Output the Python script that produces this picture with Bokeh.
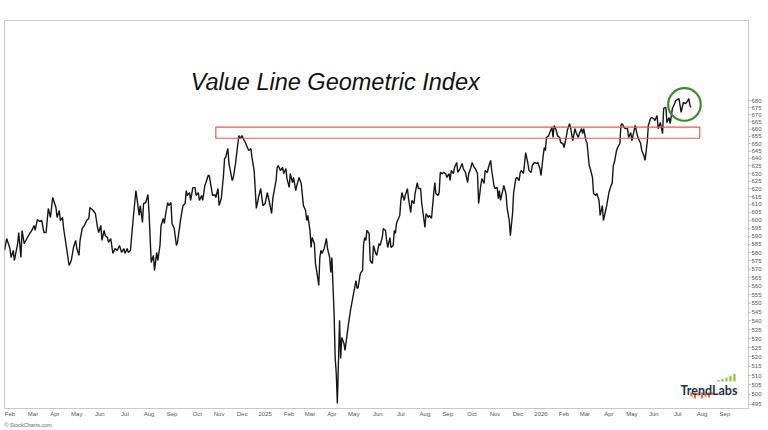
from bokeh.plotting import figure
from bokeh.models import Range1d, FixedTicker, PrintfTickFormatter, Label, Title, LinearScale
from bokeh.embed import file_html
from bokeh.resources import INLINE

# trading-session number (0 = late Jan 2024) and index close
session = [0, 2, 5, 6, 8, 9, 12, 13, 15, 16, 18, 21, 23, 25, 27, 28, 30, 32, 34, 36, 38, 40, 42, 44, 47, 48, 50, 51, 53, 54,
           57, 59, 61, 63, 65, 66, 68, 69, 71, 73, 75, 77, 78, 81, 83, 85, 86, 88, 89, 91, 92, 94, 95, 97, 99, 101, 103,
           105, 107, 109, 110, 112, 113, 115, 117, 118, 120, 121, 123, 124, 126, 127, 129, 131, 132, 134, 136, 137, 139, 140,
           142, 143, 145, 146, 147, 149, 150, 152, 153, 155, 157, 158, 161, 163, 165, 166, 167, 169, 170, 172, 174, 175, 177,
           178, 180, 181, 183, 184, 186, 187, 189, 190, 192, 193, 195, 196, 198, 200, 201, 202, 204, 205, 208, 209, 211,
           214, 215, 217, 218, 220, 223, 225, 226, 228, 230, 232, 234, 236, 238, 240, 241, 244, 245, 248, 249, 250, 252, 254,
           255, 257, 258, 260, 261, 263, 264, 266, 267, 269, 271, 273, 275, 276, 277, 279, 280, 281, 283, 284, 286, 287, 288,
           289, 290, 292, 294, 295, 297, 298, 299, 301, 302, 303, 304, 306, 307, 308, 310, 311, 314, 316,
           318, 321, 322, 323, 325, 327, 328, 329, 330, 331, 333, 334, 336, 337, 339, 340, 342, 343, 345, 346, 348, 349, 350,
           352, 353, 355, 356, 357, 358, 359, 361, 362, 363, 365, 366, 368, 369, 371, 372, 374, 375, 377, 378, 380, 381, 384,
           385, 387, 388, 390, 392, 393, 394, 396, 397, 398, 400, 401, 403, 404, 406, 407, 408, 410, 411, 413, 414, 416,
           418, 419, 421, 423, 424, 426, 427, 429, 430, 432, 433, 435, 436, 438, 439, 441, 442, 444, 445, 447, 448, 450, 451,
           452, 453, 455, 456, 458, 459, 461, 462, 464, 465, 467, 468, 470, 471, 472, 474, 475, 476, 478, 479, 481, 482, 484,
           486, 487, 489, 490, 492, 493, 494, 495, 497, 498, 500, 501, 502, 504, 505, 507, 508, 510, 511, 513, 514, 516, 517,
           519, 521, 522, 524, 525, 527, 528, 529, 531, 532, 534, 535, 537, 538, 540, 541, 543, 544,
           546, 547, 549, 550, 552, 554, 555, 556, 557, 559, 560, 562, 563, 564, 566, 567, 569, 570, 572, 573, 575, 576, 578,
           579, 581, 582, 584, 585, 587, 588, 590, 591, 593, 594, 596, 597, 599, 601, 602, 604, 605, 607, 608, 610, 612, 613,
           616, 617, 618, 620, 622, 623, 625, 626, 627]

close = [581.3, 588.6, 582.5, 577.0, 581.3, 575.2, 585.5, 592.3, 577.0, 593.6, 585.5, 589.2, 591.7, 593.6, 596.7, 593.6,
         600.4, 599.2, 599.8, 592.3, 592.3, 607.4, 601.7, 614.4, 608.0, 601.7, 606.1, 599.8, 601.7, 594.8,
         581.3, 572.2, 575.2, 583.1, 587.4, 582.5, 578.3, 587.4, 594.8, 596.7, 599.8, 601.1, 608.0, 606.1, 604.2, 595.4,
         592.3, 596.7, 587.4, 593.6, 590.4, 589.2, 586.2, 588.6, 579.5, 582.5, 581.3,
         584.3, 580.1, 582.5, 579.5, 582.5, 580.1, 581.3, 596.7, 604.2, 618.9, 613.7, 603.0, 609.2, 598.6, 610.5, 611.2,
         616.3, 604.8, 574.0, 578.3, 569.2, 580.1, 575.2, 584.3, 596.7, 601.1, 597.9, 603.0, 611.2, 609.2, 611.2, 597.9,
         594.8, 584.3, 586.2, 601.1, 609.2, 610.5, 618.9, 615.7, 617.6, 612.5, 620.8, 620.8, 615.7, 617.6, 612.5, 615.7,
         612.5, 622.2, 624.1, 628.7, 628.7, 620.2, 615.7, 616.3, 614.4, 620.2, 609.2, 613.7, 628.7, 640.0, 640.7, 646.7,
         636.7, 625.4, 627.4, 636.7,
         655.5, 653.5, 655.5, 653.5, 650.8, 645.4, 646.7, 640.7, 632.0, 607.4, 614.4, 620.2, 609.2, 610.5, 617.6, 614.4,
         604.2, 613.7, 625.4, 634.0, 635.3, 632.0, 634.0, 630.0, 633.3, 626.7, 620.9, 630.0, 624.1, 627.4, 618.9, 622.2,
         627.4, 623.5, 609.2, 606.1, 599.8, 603.0, 593.6, 583.1, 589.2, 585.5, 573.4, 565.1, 560.4, 577.0, 581.3, 579.5,
         582.5, 588.6, 582.5, 577.0, 568.0, 577.0, 544.3, 519.7, 511.1, 495.3, 540.3, 519.2, 530.7, 527.4, 523.6, 537.5,
         546.0,
         552.8, 563.3, 558.6, 559.2, 567.5, 569.2, 585.5, 589.2, 587.4, 593.6, 591.7, 575.2, 573.4, 584.3, 579.5, 578.3,
         585.5, 584.3, 589.2, 594.8, 593.6, 587.4, 583.1, 589.2, 583.1, 584.3, 593.6, 591.7, 597.9, 599.8, 603.0, 612.5,
         617.6, 612.5, 615.7, 620.2, 613.7, 604.8, 612.5, 610.5, 617.0, 624.1, 620.2, 620.2, 611.2, 595.4, 604.2, 601.7,
         603.0, 601.1, 617.0, 624.1, 617.0, 615.7, 617.6, 630.7, 630.0, 630.7, 630.0, 627.4, 630.0, 625.4, 632.0, 630.0,
         634.0, 637.3, 630.7, 633.3,
         636.7, 633.3, 630.7, 624.1, 630.0, 634.0, 637.3, 634.0, 633.3, 630.0, 610.5, 622.2, 626.7, 623.5, 632.0, 630.7,
         634.0, 638.7, 632.0, 622.2, 620.2, 620.9, 613.7, 618.9, 612.5, 618.9, 622.2, 617.0, 608.0, 599.8, 590.4, 604.2,
         617.6, 626.7, 627.4, 625.4, 630.7, 632.0, 630.0, 636.7, 644.0, 636.7, 632.0, 630.7, 635.3, 637.3, 636.7, 637.3,
         633.3, 628.7, 642.0, 647.4, 645.4, 654.2, 655.5, 657.6, 661.1, 654.2, 662.5, 659.0, 655.5, 654.2, 650.8, 650.1,
         647.4, 654.2, 659.0, 663.8, 661.0, 652.1, 660.3, 657.6, 654.2, 656.9, 660.3, 656.9, 660.3, 652.1, 650.8, 635.3,
         633.3, 627.4, 617.0, 615.7, 617.0, 612.5, 603.0,
         609.2, 599.8, 606.1, 609.2, 617.6, 622.2, 623.5, 635.3, 637.3, 645.4, 647.4, 650.1, 662.5, 663.8, 661.1, 660.3,
         660.3, 654.2, 657.6, 652.1, 659.0, 662.5, 655.5, 653.5, 650.1, 645.4, 642.0, 638.7, 650.8, 662.5, 667.3, 668.0,
         667.3, 665.9, 669.4, 660.3, 664.5, 656.9, 674.4, 675.1, 664.5, 668.0, 663.8, 674.4, 677.9, 680.0, 681.4, 676.5,
         671.6, 678.6, 677.9, 678.6, 681.4, 676.5, 675.1]

month_ticks = [5, 26, 46, 66, 87, 110, 132, 153, 176, 196, 217, 238, 260, 279, 299, 319, 341, 362, 384, 405, 427,
               448, 469, 490, 511, 530, 552, 573, 593, 615, 637, 658]
month_labels = ["Feb", "Mar", "Apr", "May", "Jun", "Jul", "Aug", "Sep", "Oct", "Nov", "Dec", "2025",
                "Feb", "Mar", "Apr", "May", "Jun", "Jul", "Aug", "Sep", "Oct", "Nov", "Dec", "2026",
                "Feb", "Mar", "Apr", "May", "Jun", "Jul", "Aug", "Sep"]

price_ticks = list(range(495, 685, 5))

zone_start, zone_end = 193, 635
zone_low, zone_high = 653.7, 661.3
highlight_session, highlight_close = 621, 677.2

title_text = "Value Line Geometric Index"

p = figure(width=768, height=430, x_range=Range1d(0, 679.5), y_range=Range1d(492.7, 739.4),
           y_axis_type="log", y_axis_location="right", output_backend="svg", toolbar_location=None,
           min_border_left=4, min_border_right=20, min_border_top=20, min_border_bottom=22,
           background_fill_color="white", border_fill_color="white")
p.grid.visible = False
p.outline_line_color = "#c8c8c8"
p.outline_line_width = 1

ya = p.yaxis[0]
ya.ticker = FixedTicker(ticks=price_ticks)
ya.formatter = PrintfTickFormatter(format="%d")
ya.major_label_text_font = "Liberation Sans"
ya.major_label_text_font_size = "6px"
ya.major_label_text_color = "#555555"
ya.major_tick_out = 2
ya.major_tick_in = 0
ya.major_tick_line_color = "#bbbbbb"
ya.minor_tick_line_color = None
ya.axis_line_color = "#c8c8c8"
ya.major_label_standoff = 1

xa = p.xaxis[0]
xa.ticker = FixedTicker(ticks=month_ticks)
xa.major_label_overrides = {t: lab for t, lab in zip(month_ticks, month_labels)}
xa.major_label_text_font = "Liberation Sans"
xa.major_label_text_font_size = "6px"
xa.major_label_text_color = "#555555"
xa.major_tick_out = 0
xa.major_tick_in = 0
xa.major_tick_line_color = None
xa.minor_tick_line_color = None
xa.axis_line_color = "#c8c8c8"
xa.major_label_standoff = 2

p.extra_y_ranges = {"frac": Range1d(0, 1)}
p.extra_y_scales = {"frac": LinearScale()}

p.line(session, close, line_color="#161616", line_width=1.4)

p.quad(left=[zone_start], right=[zone_end], bottom=[zone_low], top=[zone_high],
       fill_color=None, line_color="#e45a5c", line_width=1.2)

p.circle(x=[highlight_session], y=[highlight_close], radius=16.3, radius_units="screen",
         fill_color=None, line_color="#3c8a2e", line_width=2.2)

p.add_layout(Label(x=170, y=693.6, text=title_text, text_font="Liberation Sans", text_font_style="italic",
                   text_font_size="23.5px", text_color="#111111", text_baseline="alphabetic"))

# TrendLabs logo
p.add_layout(Label(x=617.4, y=0.0464, y_range_name="frac", text="TrendLabs", text_font="Lato",
                   text_font_style="bold", text_font_size="12.5px", text_color="#1f3347",
                   text_baseline="alphabetic"))
logo_green_x = [652.1, 655.7, 659.4, 663.0, 666.7]
logo_green_top = [0.0735, 0.0760, 0.0799, 0.0838, 0.0889]
p.vbar(x=logo_green_x, width=2.0, bottom=0.0696, top=logo_green_top, y_range_name="frac",
       fill_color="#8cc63f", line_color=None)
logo_orange_x = [627.4, 630.6, 633.8, 637.0, 640.2, 643.4, 646.6]
logo_orange_bottom = [0.0309, 0.0258, 0.0335, 0.0258, 0.0309, 0.0284, 0.0361]
p.vbar(x=logo_orange_x, width=2.0, bottom=logo_orange_bottom, top=0.0412, y_range_name="frac",
       fill_color="#f26b2a", line_color=None)

p.add_layout(Title(text="\u00a9 StockCharts.com", align="left", text_font="Liberation Sans",
                   text_font_size="5.5px", text_color="#666666", text_font_style="normal",
                   standoff=0), "below")

open("out.html", "w").write(file_html(p, INLINE))
